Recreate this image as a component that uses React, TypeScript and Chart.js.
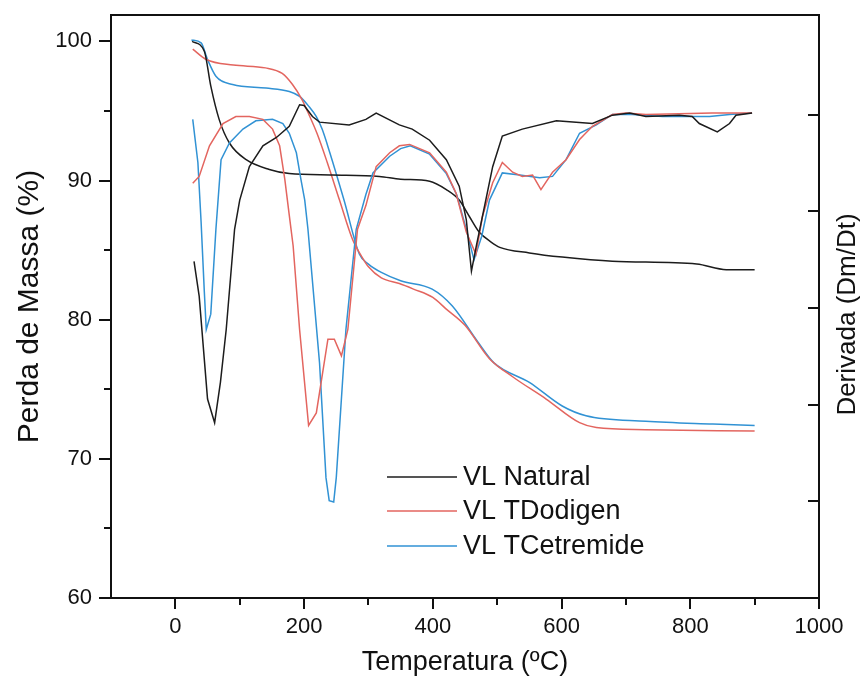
import React, { useEffect, useRef } from "react";
import { Chart, registerables } from "chart.js";

Chart.register(...registerables);

// ---- Data (temperature in ºC, mass in %) ----
const seriesLabels = ["VL Natural", "VL TDodigen", "VL TCetremide"];

// TGA curves (left axis, Perda de Massa %)
const naturalTgaTemp = [26, 45, 55, 68, 84, 110, 146, 177, 244, 317, 350, 395, 421, 441, 457, 472, 490, 504, 550, 601, 679, 810, 856, 900];
const naturalTgaMass = [100.0, 99.3, 96.8, 94.4, 92.7, 91.5, 90.8, 90.5, 90.4, 90.3, 90.1, 89.95, 89.35, 88.6, 87.4, 86.3, 85.6, 85.2, 84.8, 84.5, 84.2, 84.0, 83.6, 83.6];

const dodigenTgaTemp = [27, 48, 90, 140, 166, 182, 197, 205, 220, 236, 255, 275, 290, 300, 320, 348, 370, 400, 420, 450, 488, 524, 576, 628, 654, 730, 900];
const dodigenTgaMass = [99.45, 98.7, 98.3, 98.1, 97.7, 96.9, 95.8, 95.0, 93.4, 91.3, 88.6, 85.8, 84.5, 83.8, 83.0, 82.6, 82.2, 81.6, 80.8, 79.6, 77.2, 75.9, 74.3, 72.6, 72.25, 72.1, 72.0];

const cetremideTgaTemp = [25, 40, 50, 63, 89, 141, 177, 193, 208, 219, 228, 240, 262, 286, 300, 320, 350, 399, 430, 470, 495, 550, 601, 638, 731, 835, 900];
const cetremideTgaMass = [100.1, 99.9, 98.7, 97.5, 96.9, 96.65, 96.4, 96.05, 95.3, 94.6, 93.7, 92.0, 88.6, 84.7, 84.0, 83.4, 82.8, 82.2, 81.0, 78.4, 76.9, 75.5, 73.8, 73.1, 72.7, 72.5, 72.4];

// Derivative curves (Derivada Dm/Dt, drawn in the same vertical units as the left axis)
const naturalDtgTemp = [29, 37, 50, 61, 70, 79, 92, 100, 115, 136, 157, 177, 193, 200, 213, 224, 270, 296, 312, 348, 368, 395, 421, 441, 452, 460, 468, 477, 493, 508, 539, 592, 648, 679, 706, 731, 783, 803, 814, 842, 861, 871, 896];
const naturalDtgVal = [84.2, 81.7, 74.3, 72.6, 75.5, 79.3, 86.5, 88.6, 91.0, 92.5, 93.1, 93.9, 95.45, 95.4, 94.6, 94.2, 94.0, 94.4, 94.85, 94.0, 93.7, 92.9, 91.5, 89.6, 87.2, 83.5, 85.4, 87.4, 91.0, 93.2, 93.7, 94.3, 94.1, 94.7, 94.85, 94.6, 94.7, 94.6, 94.1, 93.5, 94.1, 94.7, 94.85];

const dodigenDtgTemp = [27, 37, 53, 74, 94, 115, 136, 151, 162, 170, 177, 183, 193, 207, 219, 237, 247, 258, 268, 283, 296, 312, 333, 348, 364, 395, 421, 436, 452, 467, 477, 493, 508, 524, 539, 555, 568, 586, 607, 628, 648, 679, 700, 731, 834, 896];
const dodigenDtgVal = [89.8, 90.3, 92.5, 94.1, 94.6, 94.6, 94.4, 93.7, 92.5, 90.1, 87.5, 85.3, 79.3, 72.4, 73.3, 78.6, 78.6, 77.4, 79.3, 86.5, 88.2, 91.0, 92.0, 92.5, 92.6, 92.0, 90.6, 89.1, 86.3, 84.7, 87.4, 89.85, 91.3, 90.6, 90.3, 90.4, 89.35, 90.6, 91.5, 92.95, 93.9, 94.75, 94.85, 94.75, 94.85, 94.85];

const cetremideDtgTemp = [27, 35, 40, 45, 48, 55, 63, 71, 84, 105, 125, 151, 167, 177, 188, 195, 201, 206, 224, 234, 239, 246, 250, 265, 281, 296, 307, 333, 350, 365, 395, 421, 437, 452, 464, 476, 488, 508, 535, 566, 586, 607, 628, 654, 679, 710, 757, 809, 830, 861, 896];
const cetremideDtgVal = [94.4, 91.3, 87.0, 82.0, 79.3, 80.4, 86.5, 91.5, 92.7, 93.7, 94.3, 94.4, 94.1, 93.4, 92.0, 90.1, 88.6, 86.5, 76.9, 68.65, 67.0, 66.9, 68.65, 79.3, 86.5, 89.0, 90.55, 91.75, 92.3, 92.5, 91.9, 90.5, 89.0, 86.5, 84.3, 86.0, 88.6, 90.55, 90.4, 90.2, 90.3, 91.5, 93.4, 94.0, 94.75, 94.75, 94.6, 94.6, 94.6, 94.75, 94.85];

const COLORS = ["#1c1c1c", "#e3655f", "#3192d4"];
const FONT = "'Liberation Sans', Arial, sans-serif";

const toPoints = (xs: number[], ys: number[]) => xs.map((x, i) => ({ x, y: ys[i] }));

const framePlugin = {
  id: "frameTicks",
  afterDraw(chart: any) {
    const { ctx, chartArea: a, scales } = chart;
    ctx.save();
    ctx.strokeStyle = "#111";
    ctx.lineWidth = 2;
    ctx.strokeRect(a.left, a.top, a.right - a.left, a.bottom - a.top);
    ctx.beginPath();
    // left ticks (outward)
    scales.y.ticks.forEach((t: any) => {
      const v = t.value;
      if (Math.abs(v % 5) > 1e-6) return;
      const p = Math.round(scales.y.getPixelForValue(v));
      const len = v % 10 === 0 ? 12 : 7;
      ctx.moveTo(a.left - len, p);
      ctx.lineTo(a.left, p);
    });
    // bottom ticks (outward)
    scales.x.ticks.forEach((t: any) => {
      const v = t.value;
      if (v < 0 || v > 1000) return;
      const p = Math.round(scales.x.getPixelForValue(v));
      const len = v % 200 === 0 ? 11 : 7;
      ctx.moveTo(p, a.bottom);
      ctx.lineTo(p, a.bottom + len);
    });
    // right ticks (inward)
    scales.y2.ticks.forEach((t: any) => {
      const v = t.value;
      if (v < 1 || v > 5 || Math.abs(v - Math.round(v)) > 1e-6) return;
      const p = Math.round(scales.y2.getPixelForValue(v));
      ctx.moveTo(a.right - 11, p);
      ctx.lineTo(a.right, p);
    });
    ctx.stroke();

    // right axis title, reading bottom-to-top
    ctx.fillStyle = "#111";
    ctx.font = `26px ${FONT}`;
    ctx.textAlign = "center";
    ctx.textBaseline = "middle";
    ctx.save();
    ctx.translate(a.right + 29, (a.top + a.bottom) / 2 + 8);
    ctx.rotate(-Math.PI / 2);
    ctx.fillText("Derivada (Dm/Dt)", 0, 0);
    ctx.restore();

    // legend
    const lx = a.left + 276;
    const rows = [a.top + 462, a.top + 496, a.top + 531];
    ctx.font = `27px ${FONT}`;
    ctx.textAlign = "left";
    seriesLabels.forEach((label, i) => {
      ctx.strokeStyle = COLORS[i];
      ctx.lineWidth = 1.6;
      ctx.beginPath();
      ctx.moveTo(lx, rows[i]);
      ctx.lineTo(lx + 70, rows[i]);
      ctx.stroke();
      ctx.fillStyle = "#111";
      ctx.fillText(label, lx + 76, rows[i] + 1);
    });
    ctx.restore();
  },
};

export default function App() {
  const canvasRef = useRef<HTMLCanvasElement | null>(null);

  useEffect(() => {
    document.body.style.margin = "0";
    document.body.style.overflow = "hidden";
    const canvas = canvasRef.current;
    if (!canvas) return;

    const lineDs = (label: string, pts: any[], color: string, smooth: boolean) => ({
      label,
      data: pts,
      borderColor: color,
      backgroundColor: color,
      borderWidth: 1.5,
      pointRadius: 0,
      fill: false,
      tension: 0,
      cubicInterpolationMode: smooth ? "monotone" : "default",
      yAxisID: "y",
    });

    const datasets = [
      lineDs(seriesLabels[0] + " DTG", toPoints(naturalDtgTemp, naturalDtgVal), COLORS[0], false),
      lineDs(seriesLabels[1] + " DTG", toPoints(dodigenDtgTemp, dodigenDtgVal), COLORS[1], false),
      lineDs(seriesLabels[2] + " DTG", toPoints(cetremideDtgTemp, cetremideDtgVal), COLORS[2], false),
      lineDs(seriesLabels[0], toPoints(naturalTgaTemp, naturalTgaMass), COLORS[0], true),
      lineDs(seriesLabels[1], toPoints(dodigenTgaTemp, dodigenTgaMass), COLORS[1], true),
      lineDs(seriesLabels[2], toPoints(cetremideTgaTemp, cetremideTgaMass), COLORS[2], true),
    ];

    const noPad = (s: any) => {
      s.paddingTop = 0;
      s.paddingBottom = 0;
      s.paddingLeft = 0;
      s.paddingRight = 0;
    };

    const chart = new Chart(canvas, {
      type: "line",
      data: { datasets } as any,
      options: {
        animation: false,
        responsive: false,
        devicePixelRatio: 1,
        layout: { padding: { top: 15, left: 0, right: 0, bottom: 0 } },
        plugins: { legend: { display: false }, tooltip: { enabled: false } },
        scales: {
          x: {
            type: "linear",
            min: -100,
            max: 1000,
            grid: { display: false, drawTicks: false },
            border: { display: false },
            ticks: {
              stepSize: 100,
              autoSkip: false,
              maxRotation: 0,
              padding: 16,
              color: "#111",
              font: { family: FONT, size: 22 },
              callback: (v: any) => (v >= 0 && v % 200 === 0 ? String(v) : ""),
            },
            title: {
              display: true,
              text: "Temperatura (ºC)",
              color: "#111",
              font: { family: FONT, size: 27 },
              padding: { top: 0, bottom: 6 },
            },
            afterFit: (s: any) => {
              s.height = 87;
              noPad(s);
            },
          },
          y: {
            type: "linear",
            position: "left",
            min: 60,
            max: 101.9,
            grid: { display: false, drawTicks: false },
            border: { display: false },
            ticks: {
              stepSize: 5,
              autoSkip: false,
              padding: 19,
              color: "#111",
              font: { family: FONT, size: 22 },
              callback: (v: any) => (Math.abs(v % 10) < 1e-6 ? String(v) : ""),
            },
            title: {
              display: true,
              text: "Perda de Massa (%)",
              color: "#111",
              font: { family: FONT, size: 30 },
              padding: { top: 12, bottom: 0 },
            },
            afterFit: (s: any) => {
              s.width = 111;
              noPad(s);
            },
          },
          y2: {
            type: "linear",
            position: "right",
            min: 0,
            max: 6.03,
            grid: { display: false, drawTicks: false },
            border: { display: false },
            ticks: { display: false, stepSize: 1, autoSkip: false },
            afterFit: (s: any) => {
              s.width = 45;
              noPad(s);
            },
          },
        },
      } as any,
      plugins: [framePlugin],
    });

    return () => chart.destroy();
  }, []);

  return (
    <div style={{ width: 864, height: 685, background: "#fff" }}>
      <canvas ref={canvasRef} width={864} height={685} style={{ display: "block" }} />
    </div>
  );
}
